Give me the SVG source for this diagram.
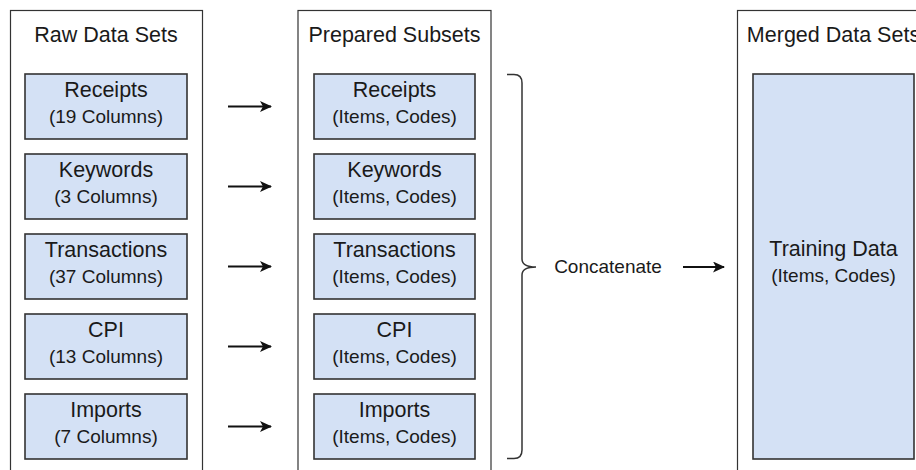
<svg xmlns="http://www.w3.org/2000/svg" width="916" height="470" viewBox="0 0 916 470">
  <style>
    .lane { fill: #ffffff; stroke: #333333; stroke-width: 1.2; }
    .item { fill: #d4e1f5; stroke: #333333; stroke-width: 1.6; }
    text { font-family: "Liberation Sans", Arial, Helvetica, sans-serif; fill: #1a1a1a; text-anchor: middle; }
    .title { font-size: 21.5px; }
    .name { font-size: 21.5px; }
    .sub { font-size: 19px; }
    .edge { stroke: #111111; stroke-width: 1.8; fill: none; }
    .brace { stroke: #333333; stroke-width: 1.5; fill: none; }
  </style>
  <defs>
    <marker id="arrow" viewBox="0 0 12 11" refX="11" refY="5.5" markerWidth="12" markerHeight="11" markerUnits="userSpaceOnUse" orient="auto">
      <path d="M0,0 L12,5.5 L0,11 L3,5.5 Z" fill="#111111"/>
    </marker>
  </defs>

  <!-- Column: raw data sets -->
  <g id="raw-data-sets">
    <rect class="lane" x="10.5" y="10.5" width="192" height="480"/>
    <text class="title" x="106" y="42">Raw Data Sets</text>
  </g>
  <g id="raw-receipts">
    <rect class="item" x="25" y="74" width="162" height="65"/>
    <text class="name" x="106" y="97">Receipts</text>
    <text class="sub" x="106" y="123">(19 Columns)</text>
  </g>
  <g id="raw-keywords">
    <rect class="item" x="25" y="154" width="162" height="65"/>
    <text class="name" x="106" y="177">Keywords</text>
    <text class="sub" x="106" y="203">(3 Columns)</text>
  </g>
  <g id="raw-transactions">
    <rect class="item" x="25" y="234" width="162" height="65"/>
    <text class="name" x="106" y="257">Transactions</text>
    <text class="sub" x="106" y="283">(37 Columns)</text>
  </g>
  <g id="raw-cpi">
    <rect class="item" x="25" y="314" width="162" height="65"/>
    <text class="name" x="106" y="337">CPI</text>
    <text class="sub" x="106" y="363">(13 Columns)</text>
  </g>
  <g id="raw-imports">
    <rect class="item" x="25" y="394" width="162" height="65"/>
    <text class="name" x="106" y="417">Imports</text>
    <text class="sub" x="106" y="443">(7 Columns)</text>
  </g>

  <!-- Column: prepared subsets -->
  <g id="prepared-subsets">
    <rect class="lane" x="298" y="10.5" width="193" height="480"/>
    <text class="title" x="394.5" y="42">Prepared Subsets</text>
  </g>
  <g id="prep-receipts">
    <rect class="item" x="314" y="74" width="161" height="65"/>
    <text class="name" x="394.5" y="97">Receipts</text>
    <text class="sub" x="394.5" y="123">(Items, Codes)</text>
  </g>
  <g id="prep-keywords">
    <rect class="item" x="314" y="154" width="161" height="65"/>
    <text class="name" x="394.5" y="177">Keywords</text>
    <text class="sub" x="394.5" y="203">(Items, Codes)</text>
  </g>
  <g id="prep-transactions">
    <rect class="item" x="314" y="234" width="161" height="65"/>
    <text class="name" x="394.5" y="257">Transactions</text>
    <text class="sub" x="394.5" y="283">(Items, Codes)</text>
  </g>
  <g id="prep-cpi">
    <rect class="item" x="314" y="314" width="161" height="65"/>
    <text class="name" x="394.5" y="337">CPI</text>
    <text class="sub" x="394.5" y="363">(Items, Codes)</text>
  </g>
  <g id="prep-imports">
    <rect class="item" x="314" y="394" width="161" height="65"/>
    <text class="name" x="394.5" y="417">Imports</text>
    <text class="sub" x="394.5" y="443">(Items, Codes)</text>
  </g>

  <!-- Column: merged data set (runs past the right edge) -->
  <g id="merged-data-sets">
    <rect class="lane" x="737.5" y="10.5" width="192" height="480"/>
    <text class="title" x="833.5" y="42">Merged Data Sets</text>
  </g>
  <g id="training-data">
    <rect class="item" x="753" y="74" width="161" height="385"/>
    <text class="name" x="833.5" y="256">Training Data</text>
    <text class="sub" x="833.5" y="282">(Items, Codes)</text>
  </g>

  <!-- Concatenate step: curly brace and label -->
  <g id="concatenate">
    <path class="brace" d="M507,74.5 L514,74.5 Q522,74.5 522,83 L522,259 Q522,267 536,267 Q522,267 522,275 L522,450 Q522,458.5 514,458.5 L507,458.5"/>
    <text class="sub" x="608" y="273">Concatenate</text>
  </g>

  <!-- Connectors -->
  <g id="connectors">
    <line class="edge" x1="228" y1="106.5" x2="271" y2="106.5" marker-end="url(#arrow)"/>
    <line class="edge" x1="228" y1="186.5" x2="271" y2="186.5" marker-end="url(#arrow)"/>
    <line class="edge" x1="228" y1="266.5" x2="271" y2="266.5" marker-end="url(#arrow)"/>
    <line class="edge" x1="228" y1="346.5" x2="271" y2="346.5" marker-end="url(#arrow)"/>
    <line class="edge" x1="228" y1="426.5" x2="271" y2="426.5" marker-end="url(#arrow)"/>
    <line class="edge" x1="683" y1="267" x2="724" y2="267" marker-end="url(#arrow)"/>
  </g>
</svg>
